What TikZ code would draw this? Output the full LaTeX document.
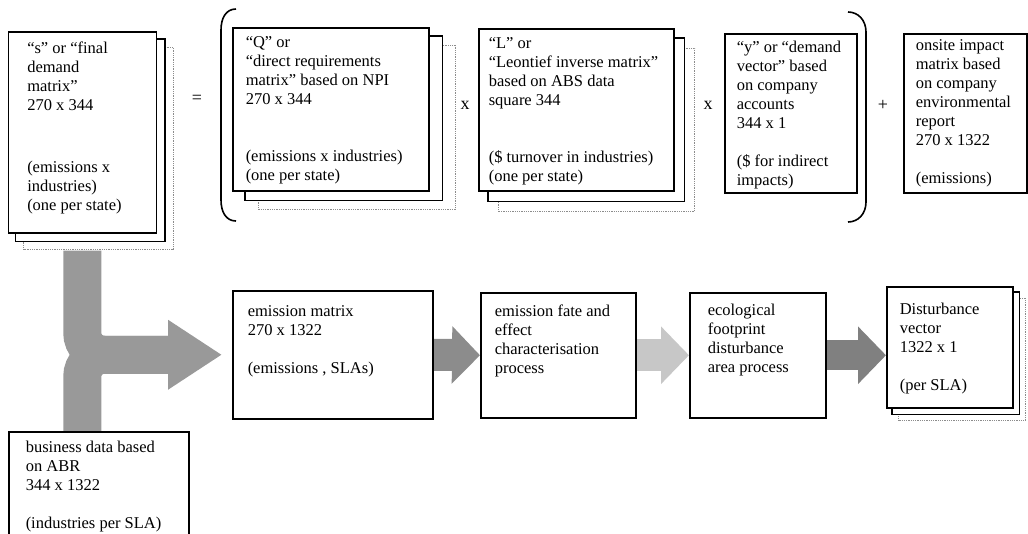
\documentclass[tikz,border=0pt]{standalone}
\usepackage{fontspec}
\setmainfont{Liberation Serif}
\usetikzlibrary{calc,backgrounds,arrows.meta}
\tikzset{
  mat/.style={draw, line width=1.5pt, fill=white, anchor=north west, align=flush left,
    inner ysep=0pt, text height=20pt, font=\fontsize{16.5}{19}\selectfont},
  midsheet/.style={draw, line width=1.2pt, fill=white},
  backsheet/.style={draw=black!45, densely dotted, line width=0.8pt, fill=white},
  flow/.style={line width=38pt, draw=black!40, rounded corners=22pt},
  fat/.style={line width=32pt, -{Triangle[length=28pt,width=56pt]}},
  op/.style={font=\fontsize{18}{19}\selectfont},
}
\newcommand\sheets[3]{%
  \begin{pgfonlayer}{background}
    \draw[backsheet] ($(#1.south west)+(2*#2,2*#3)$) rectangle ($(#1.north east)+(2*#2,2*#3)$);
    \draw[midsheet] ($(#1.south west)+(#2,#3)$) rectangle ($(#1.north east)+(#2,#3)$);
  \end{pgfonlayer}}

\begin{document}
\begin{tikzpicture}[x=1pt,y=-1pt]
	\useasboundingbox (0,0) rectangle (1028,533);
	\clip (0,0) rectangle (1028,533);
	\node (s) [mat, inner xsep=19pt, text width=110pt, text height=22pt, text depth=179pt] at (7.5,31) {“s” or “final\\demand\\matrix”\\270 x 344\\[43pt](emissions x\\industries)\\(one per state)};
	\node (q) [mat, inner xsep=13pt, text width=170pt, text depth=143pt] at (232,27) {“Q” or\\“direct requirements\\matrix” based on NPI\\270 x 344\\[38pt](emissions x industries)\\(one per state)};
	\node (l) [mat, inner xsep=10pt, text width=175pt, text depth=142pt] at (478,28) {“L” or\\“Leontief inverse matrix”\\based on ABS data\\square 344\\[38pt](\$ turnover in industries)\\(one per state)};
	\node (y) [mat, inner xsep=12pt, text width=108pt, text height=19pt, text depth=140pt] at (724,33) {“y” or “demand\\vector” based\\on company\\accounts\\344 x 1\\[19pt](\$ for indirect\\impacts)};
	\node (onsite) [mat, inner xsep=12pt, text width=99pt, text height=17pt, text depth=142pt] at (903,33) {onsite impact\\matrix based\\on company\\environmental\\report\\270 x 1322\\[19pt](emissions)};
	\node (em) [mat, inner xsep=15pt, text width=170pt, text height=26pt, text depth=102pt] at (232,290) {emission matrix\\270 x 1322\\[19pt](emissions , SLAs)};
	\node (fate) [mat, inner xsep=14pt, text width=127pt, text height=24pt, text depth=101pt] at (480,292) {emission fate and\\effect\\characterisation\\process};
	\node (eco) [mat, inner xsep=18pt, text width=100pt, text height=23pt, text depth=102pt] at (689,292) {ecological\\footprint\\disturbance\\area process};
	\node (dist) [mat, inner xsep=13pt, text width=100pt, text height=28pt, text depth=93pt] at (886,286) {Disturbance\\vector\\1322 x 1\\[19pt](per SLA)};
	\node (biz) [mat, inner xsep=17pt, text width=146pt, text height=21pt, text depth=99pt] at (8,431) {business data based\\on ABR\\344 x 1322\\[19pt](industries per SLA)};
	\sheets{s}{8}{8}
	\sheets{q}{13}{9}
	\sheets{l}{10}{10}
	\sheets{dist}{6}{6}
	\node (eq) [op] at (197,99) {=};
	\node (mul1) [op] at (465,105) {x};
	\node (mul2) [op] at (708,105) {x};
	\node (plus) [op] at (883,105) {+};
	\draw[line width=1.6pt] (236,9) .. controls (226,9) and (221,18) .. (221,30) -- (221,200) .. controls (221,212) and (226,221) .. (236,221);
	\draw[line width=1.6pt] (848,12) .. controls (858,12) and (866,20) .. (866,32) -- (866,202) .. controls (866,214) and (858,222) .. (848,222);
	\begin{scope}[on background layer]
	\draw[flow, -{Triangle[length=54pt,width=66pt]}] ([yshift=-17pt]s.south) |- ([xshift=-10pt]em.west);
	\draw[flow] (biz.north -| s.south) |- ([xshift=-64pt]em.west);
	\draw[fat, draw=black!45] (em.east) -- (fate.west);
	\draw[fat, draw=black!22] (fate.east) -- (eco.west);
	\draw[fat, draw=black!50, line width=30pt] (eco.east) -- (eco.east -| dist.west);
	\end{scope}
\end{tikzpicture}
\end{document}
